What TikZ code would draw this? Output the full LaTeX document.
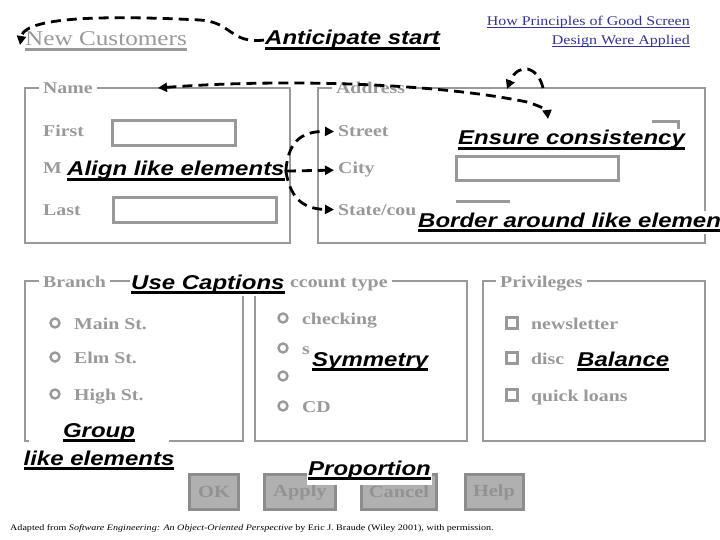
\documentclass[tikz,border=0pt]{standalone}
\usepackage{fontspec}
\setmainfont[FakeStretch=1.2]{Liberation Serif}
\setsansfont[FakeStretch=1.2]{Liberation Sans}
\usepackage{xcolor}
\usetikzlibrary{arrows.meta}

\definecolor{uigray}{RGB}{153,153,153}
\definecolor{btnfill}{RGB}{176,176,176}
\definecolor{btnedge}{RGB}{140,140,140}
\definecolor{btntext}{RGB}{146,146,146}
\definecolor{linkblue}{RGB}{51,51,153}

% thick and thin underlines
\newcommand{\tipline}[1]{\setbox0\hbox{#1}\rlap{\rule[-4.6pt]{\wd0}{2.6pt}}\box0}
\newcommand{\linkline}[1]{\setbox0\hbox{#1}\rlap{\rule[-2.2pt]{\wd0}{0.9pt}}\box0}

\begin{document}
\begin{tikzpicture}[x=1pt, y=-1pt]
    % Define styles
    \tikzstyle{frame} = [draw=uigray, line width=2pt]
    \tikzstyle{field} = [draw=uigray, line width=3pt]
    \tikzstyle{lbl} = [anchor=base west, inner sep=0pt, text=uigray, font=\bfseries\fontsize{16.5}{19}\selectfont]
    \tikzstyle{title} = [lbl, fill=white, inner xsep=4pt, inner ysep=1pt]
    \tikzstyle{radio} = [circle, draw=uigray, line width=2.4pt, minimum size=9pt, inner sep=0pt]
    \tikzstyle{tick} = [rectangle, draw=uigray, line width=2.4pt, minimum size=11pt, inner sep=0pt]
    \tikzstyle{button} = [rectangle, draw=btnedge, fill=btnfill, line width=3pt, text=btntext, minimum height=35pt, inner sep=0pt, font=\bfseries\fontsize{17}{20}\selectfont]
    \tikzstyle{caption} = [anchor=base west, fill=white, inner xsep=1pt, inner ysep=2pt, font=\sffamily\bfseries\itshape\fontsize{20}{24}\selectfont]
    \tikzstyle{arrow} = [line width=2.8pt, dash pattern=on 10pt off 6pt, -{Triangle[length=9pt, width=9pt]}]

    \useasboundingbox (0,0) rectangle (720,540);

    % Heading
    \node [anchor=base west, inner sep=0pt, text=uigray, font=\fontsize{21}{24}\selectfont] (newcust) at (25,46) {\tipline{New Customers}};
    \node [anchor=base east, inner sep=0pt, text=linkblue, font=\fontsize{13.3}{16}\selectfont] (link1) at (690,26) {\linkline{How Principles of Good Screen}};
    \node [anchor=base east, inner sep=0pt, text=linkblue, font=\fontsize{13.3}{16}\selectfont] (link2) at (690,45) {\linkline{Design Were Applied}};

    % Group frames
    \draw [frame] (25,88) rectangle (290,243);
    \draw [frame] (318,88) rectangle (705,243);
    \draw [frame] (25,281) rectangle (243,441);
    \draw [frame] (255,281) rectangle (467,441);
    \draw [frame] (483,281) rectangle (705,441);

    \node [title] (name) at (39,94) {Name};
    \node [title] (address) at (332,94) {Address};
    \node [title] (branch) at (39,287) {Branch};
    \node [title] (acct) at (286,287) {ccount type};
    \node [title] (priv) at (496,287) {Privileges};

    % Name and address fields
    \node [lbl] (first) at (43,137) {First};
    \node [lbl] (mid) at (43,174) {M};
    \node [lbl] (last) at (43,215) {Last};
    \node [lbl] (street) at (338,137) {Street};
    \node [lbl] (city) at (338,174) {City};
    \node [lbl] (state) at (338,215) {State/cou};
    \draw [field] (112,121) rectangle (235,146);
    \draw [field] (113,198) rectangle (276,223);
    \draw [field] (456,157) rectangle (618,181);
    \draw [field] (652,122) -| (678,147);
    \draw [field] (456,202) -- (510,202);

    % Radio buttons and check boxes
    \foreach \y/\t [count=\i] in {323/Main St., 357/Elm St., 394/High St.} {
        \node [radio] (br\i) at (55,\y) {};
        \node [lbl] (brl\i) at (74,\y+6) {\t};
    }
    \foreach \y/\t [count=\i] in {318/checking, 348/s, 376/, 406/CD} {
        \node [radio] (ac\i) at (283,\y) {};
        \node [lbl] (acl\i) at (302,\y+6) {\t};
    }
    \foreach \y/\t [count=\i] in {323/newsletter, 358/disc, 395/quick loans} {
        \node [tick] (pr\i) at (512,\y) {};
        \node [lbl] (prl\i) at (531,\y+6) {\t};
    }

    % Buttons
    \node [button, minimum width=49pt] (ok) at (214,492) {OK};
    \node [button, minimum width=71pt] (apply) at (300,492) {Apply};
    \node [button, minimum width=75pt] (cancel) at (399,492) {Cancel};
    \node [button, minimum width=58pt] (help) at (494,492) {Help};

    \node [anchor=base west, inner sep=0pt, font=\fontsize{8.4}{10}\selectfont] (credit) at (10,530) {Adapted from \textit{Software Engineering: An Object-Oriented Perspective} by Eric J. Braude (Wiley 2001), with permission.};

    % Principles
    \node [caption] (anticipate) at (264,45) {\tipline{Anticipate start}};
    \node [caption] (consistency) at (457,145) {\tipline{Ensure consistency}};
    \node [caption] (align) at (66,176) {\tipline{Align like elements}};
    \node [caption] (border) at (417,227) {\tipline{Border around like elemen}};
    \node [caption] (captions) at (130,289) {\tipline{Use Captions}};
    \node [caption] (symmetry) at (311,366) {\tipline{Symmetry}};
    \node [caption] (balance) at (576,366) {\tipline{Balance}};
    \node [caption, anchor=base, minimum width=140pt] (group) at (99,437) {\tipline{Group}};
    \node [caption, anchor=base] (likeel) at (99,465) {\tipline{like elements}};
    \node [caption, inner ysep=5pt] (proportion) at (307,475) {\tipline{Proportion}};

    % Arrows
    \coordinate (custtip) at (20,45);
    \coordinate (nametip) at (158,88);
    \coordinate (ensuretip) at (548,119);
    \coordinate (loopstart) at (543,88);
    \coordinate (looptip) at (507,89);
    \draw [arrow] (anticipate.west) .. controls (230,44) and (232,22) .. (200,20) .. controls (120,16) and (25,15) .. (custtip);
    \draw [arrow, {Triangle[length=9pt, width=9pt]}-{Triangle[length=9pt, width=9pt]}] (nametip) .. controls (290,78) and (440,84) .. (527,102) .. controls (540,106) and (547,110) .. (ensuretip);
    \draw [arrow] (loopstart) .. controls (538,66) and (518,62) .. (looptip);
    \draw [arrow, shorten >=4pt] (align.east) .. controls (288,145) and (298,131) .. (street.west);
    \draw [arrow, shorten >=4pt] (align.east) -- (city.west);
    \draw [arrow, shorten >=4pt] (align.east) .. controls (290,195) and (300,209) .. (state.west);
\end{tikzpicture}
\end{document}
